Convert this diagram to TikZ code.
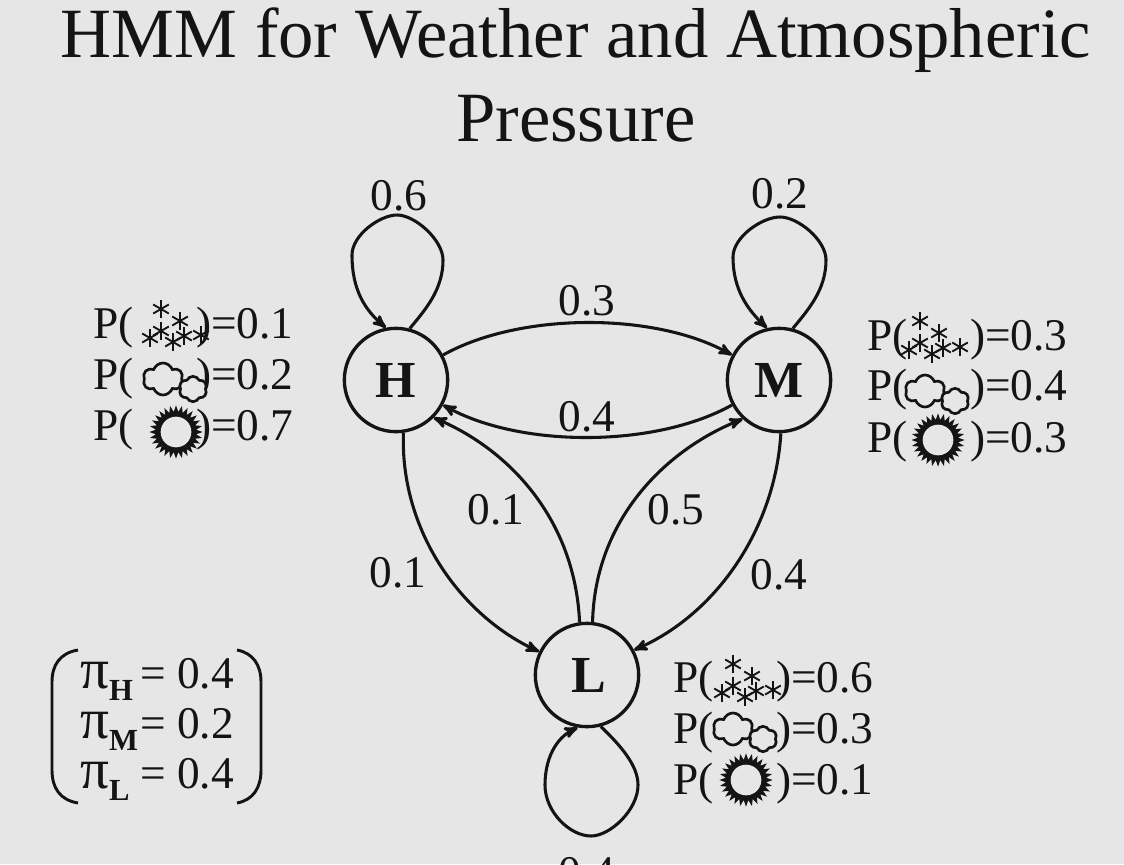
\documentclass[tikz,border=0pt]{standalone}
\usepackage{fontspec}
\setmainfont{Liberation Serif}
\usetikzlibrary{arrows}
\usetikzlibrary{shapes.geometric,shapes.symbols}
\definecolor{bgcol}{RGB}{230,230,230}
\definecolor{inkcol}{RGB}{20,20,20}
\tikzstyle{state} = [draw=inkcol,circle,line width=2.5pt,minimum size=77.5pt,inner sep=0pt,font=\fontsize{39}{39}\selectfont\bfseries,text=inkcol]
\tikzstyle{edge} = [draw=inkcol,line width=2.3pt,-stealth']
\tikzstyle{lab} = [font=\fontsize{34}{34}\selectfont,text=inkcol,inner sep=0pt]
\tikzstyle{prob} = [font=\fontsize{34}{34}\selectfont,text=inkcol,inner sep=0pt,anchor=base west]
\tikzstyle{headline} = [font=\fontsize{53}{53}\selectfont,text=inkcol,inner sep=0pt,anchor=base]
\newcommand{\probrow}[1]{P(\hspace{47pt})=#1}
\newcommand{\pirow}[2]{\makebox[45pt][l]{{\fontsize{43}{43}\selectfont π}\raisebox{-9pt}{\fontsize{23}{23}\selectfont\bfseries #1}}= #2}
\tikzset{
  flake/.pic={\foreach \ang in {30,90,150} {\draw[inkcol,line width=1.4pt] (\ang:9) -- (\ang+180:9);}},
  snowicon/.pic={
    \foreach \fx/\fy in {-12/-19,7/-7,-12/3,-23/10,11/8,0/14,28/7} {\pic at (\fx,\fy) {flake};}
  },
  cloudicon/.pic={
    \node[cloud,draw=inkcol,line width=2pt,cloud puffs=6,cloud puff arc=140,aspect=1.25,minimum width=30pt,minimum height=24pt,inner sep=0pt] (big) at (-12,-1) {};
    \node[cloud,draw=inkcol,fill=bgcol,line width=2pt,cloud puffs=6,cloud puff arc=130,aspect=1.1,minimum width=21pt,minimum height=19pt,inner sep=0pt] (small) at (18,9) {};
  },
  sunicon/.pic={
    \node[star,star points=28,star point ratio=1.32,fill=inkcol,minimum size=40pt,inner sep=0pt] (rays) at (0,0) {};
    \node[circle,fill=bgcol,minimum size=23pt,inner sep=0pt] (disc) at (0,0) {};
  }
}

\begin{document}
\begin{tikzpicture}[x=0.75pt,y=-0.75pt]
\clip (0,0) rectangle (1124,864);
\fill[bgcol] (0,0) rectangle (1124,864);

\node[headline] (title1) at (576,57) {HMM for Weather and Atmospheric};
\node[headline] (title2) at (576,141) {Pressure};

\node[state] (H) at (396,380) {H};
\node[state] (M) at (779,380) {M};
\node[state] (L) at (587,675) {\hspace{3pt}L};

% between the states
\draw[edge] (H.28) .. controls (520,312) and (655,312) .. (M.152);
\draw[edge] (M.208) .. controls (655,448) and (520,448) .. (H.332);
\draw[edge] (H.278) .. controls (400,530) and (460,615) .. (L.154);
\draw[edge] (L.98) .. controls (575,520) and (510,450) .. (H.315);
\draw[edge] (L.84) .. controls (595,520) and (665,450) .. (M.227);
\draw[edge] (M.272) .. controls (775,530) and (715,615) .. (L.28);

% self loops
\draw[edge] (H.75) .. controls (425,310) and (443,290) .. (443,260) .. controls (443,240) and (415,215) .. (397,215) .. controls (380,215) and (352,235) .. (352,255) .. controls (352,290) and (365,310) .. (H.101);
\draw[edge] (M.75) .. controls (808,310) and (826,290) .. (826,260) .. controls (826,240) and (798,217) .. (780,217) .. controls (762,217) and (733,237) .. (733,257) .. controls (733,290) and (748,310) .. (M.103);
\draw[edge] (L.285) .. controls (620,745) and (638,765) .. (638,785) .. controls (638,810) and (610,836) .. (591,836) .. controls (570,836) and (545,812) .. (545,785) .. controls (545,760) and (555,738) .. (L.260);

\node[lab] (pHH) at (399,196) {0.6};
\node[lab] (pMM) at (780,194) {0.2};
\node[lab] (pHM) at (587,301) {0.3};
\node[lab] (pMH) at (587,417) {0.4};
\node[lab] (pLH) at (496,510) {0.1};
\node[lab] (pLM) at (676,510) {0.5};
\node[lab] (pHL) at (398,573) {0.1};
\node[lab] (pML) at (779,575) {0.4};
\node[lab] (pLL) at (587,873) {0.4};

% emissions of H
\node[prob] (h1) at (93,338) {\probrow{0.1}};
\node[prob] (h2) at (93,389) {\probrow{0.2}};
\node[prob] (h3) at (93,440) {\probrow{0.7}};
\pic at (173,328) {snowicon};
\pic at (175,380) {cloudicon};
\pic at (176,432) {sunicon};

% emissions of M
\node[prob] (m1) at (867,350) {\probrow{0.3}};
\node[prob] (m2) at (867,400) {\probrow{0.4}};
\node[prob] (m3) at (867,452) {\probrow{0.3}};
\pic at (932,340) {snowicon};
\pic at (937,392) {cloudicon};
\pic at (938,440) {sunicon};

% emissions of L
\node[prob] (l1) at (673,692) {\probrow{0.6}};
\node[prob] (l2) at (673,743) {\probrow{0.3}};
\node[prob] (l3) at (673,794) {\probrow{0.1}};
\pic at (745,683) {snowicon};
\pic at (745,730) {cloudicon};
\pic at (746,780) {sunicon};

% initial probabilities
\node[prob] (piH) at (80,688) {\pirow{H}{0.4}};
\node[prob] (piM) at (80,738) {\pirow{M}{0.2}};
\node[prob] (piL) at (80,788) {\pirow{L}{0.4}};
\draw[inkcol,line width=2.2pt] (78,650) .. controls (60,653) and (52,665) .. (52,682) -- (52,770) .. controls (52,788) and (60,800) .. (78,803);
\draw[inkcol,line width=2.2pt] (237,650) .. controls (253,653) and (261,665) .. (261,682) -- (261,770) .. controls (261,788) and (253,800) .. (237,803);
\end{tikzpicture}
\end{document}
